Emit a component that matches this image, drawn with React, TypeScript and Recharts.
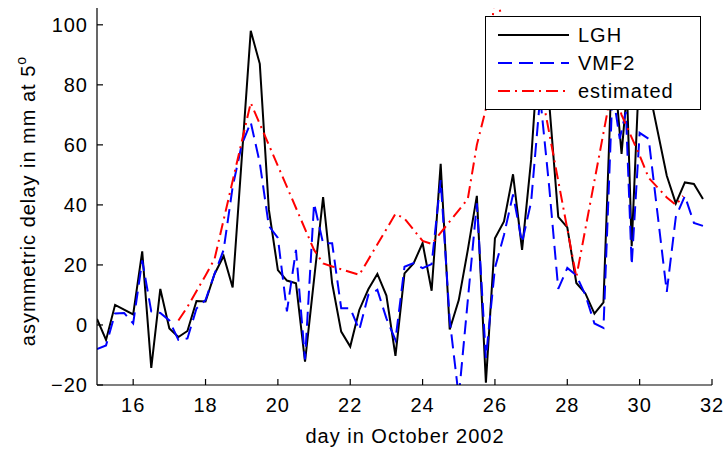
import { LineChart, Line, XAxis, YAxis } from "recharts";

const FONT = '"Liberation Sans", Arial, Helvetica, sans-serif';

const xTicks = [16, 18, 20, 22, 24, 26, 28, 30, 32];
const yTicks = [-20, 0, 20, 40, 60, 80, 100];

// LGH (black, solid)
const lghDays = [
  15.0, 15.25, 15.5, 16.0, 16.25, 16.5, 16.75, 17.0, 17.25, 17.5, 17.75, 18.0,
  18.25, 18.5, 18.75, 19.25, 19.5, 19.75, 20.0, 20.25, 20.5, 20.75, 21.25, 21.5,
  21.75, 22.0, 22.25, 22.5, 22.75, 23.0, 23.25, 23.5, 23.75, 24.0, 24.25, 24.5,
  24.75, 25.0, 25.25, 25.5, 25.75, 26.0, 26.25, 26.5, 26.75, 27.0, 27.25, 27.5,
  27.75, 28.0, 28.25, 28.5, 28.75, 29.0, 29.25, 29.5, 29.65, 29.78, 30.0, 30.25,
  30.75, 31.0, 31.25, 31.5, 31.75,
];
const lghDelay = [
  2, -5, 6.7, 3.5, 24.5, -14.3, 12, -1.2, -4, -2, 8, 7.8,
  17, 23, 12.5, 98, 87, 38.5, 18.3, 14.8, 13.9, -12.2, 42.6, 13.9,
  -2.2, -7.2, 5, 11.9, 17, 9.8, -10.3, 17.2, 20.5, 27.3, 11.4, 53.7,
  -1.5, 8.3, 25, 43, -19.2, 28.9, 34.5, 50.2, 25, 55, 100, 74,
  36, 32.5, 14, 10.5, 3.8, 7.5, 92, 57, 78, 26.2, 88, 79,
  49.7, 40.5, 47.5, 47, 42,
];

// VMF2 (blue, dashed)
const vmfDays = [
  15.0, 15.25, 15.5, 15.75, 16.0, 16.25, 16.5, 16.75, 17.0, 17.25, 17.5, 17.75,
  18.0, 18.25, 18.5, 18.75, 19.0, 19.25, 19.5, 19.75, 20.0, 20.25, 20.5, 20.75,
  21.0, 21.25, 21.5, 21.75, 22.0, 22.25, 22.5, 22.75, 23.0, 23.25, 23.5, 23.75,
  24.0, 24.25, 24.5, 24.75, 25.0, 25.5, 25.75, 26.0, 26.25, 26.5, 26.75, 27.0,
  27.25, 27.5, 27.75, 28.0, 28.25, 28.5, 28.75, 29.0, 29.25, 29.45, 29.62, 29.78,
  30.0, 30.25, 30.75, 31.0, 31.25, 31.5, 31.75,
];
const vmfDelay = [
  -8, -6.8, 3.8, 4, 0.5, 21.5, 4.5, 4, 1.5, -5, -4.5, 5.5,
  8.3, 17, 25, 46, 60, 67.5, 54, 33, 29, 4.5, 25, -11.5,
  40.5, 27.2, 27.2, 5.6, 5.6, -1.7, 10, 11.7, 2.2, -5, 19.4, 20.6,
  18.9, 20.3, 48.3, 1.7, -24, 40.5, -11, 19, 30, 43.5, 27.5, 41,
  76, 46, 12, 19, 16.5, 10, 0.5, -1, 78, 62, 71, 20,
  64, 62, 11, 36, 43, 34, 33,
];

// estimated (red, dash-dot)
const estDays = [
  17.25, 17.5, 18.0, 18.25, 19.25, 21.0, 21.25, 21.5, 22.25, 23.25, 23.5, 24.0,
  24.25, 25.25, 25.5, 25.75, 26.0, 26.5, 27.25, 28.25, 29.25, 29.5, 30.0, 30.25,
  30.75, 31.0, 31.2,
];
const estDelay = [
  1.5, 6, 16.5, 22, 74, 25, 20.5, 19.5, 16.7, 37, 35.5, 28,
  27, 42, 60, 72, 112, 86, 80, 16, 80, 70, 56.5, 49,
  42.5, 40, 43,
];

const toRows = (days: number[], values: number[]) =>
  days.map((day, i) => ({ day, delay: values[i] }));

const lghRows = toRows(lghDays, lghDelay);
const vmfRows = toRows(vmfDays, vmfDelay);
const estRows = toRows(estDays, estDelay);

const BLUE_DASH = "14 7";
const RED_DASH = "12 5 2 5";

function BottomTick({ x, y, payload }: any) {
  return (
    <g>
      <line x1={x} x2={x} y1={y} y2={y - 6} stroke="#000" strokeWidth={1.2} />
      <text x={x} y={y + 27} textAnchor="middle" fontSize={20} fontFamily={FONT} letterSpacing={1} fill="#000">
        {payload.value}
      </text>
    </g>
  );
}

function LeftTick({ x, y, payload }: any) {
  const v = payload.value < 0 ? `\u2212${Math.abs(payload.value)}` : `${payload.value}`;
  return (
    <g>
      <line x1={x} x2={x + 6} y1={y} y2={y} stroke="#000" strokeWidth={1.2} />
      <text x={x - 9} y={y + 7} textAnchor="end" fontSize={20} fontFamily={FONT} letterSpacing={1} fill="#000">
        {v}
      </text>
    </g>
  );
}

function TopTick({ x, y }: any) {
  return <line x1={x} x2={x} y1={y} y2={y + 6} stroke="#000" strokeWidth={1.2} />;
}

function RightTick({ x, y }: any) {
  return <line x1={x} x2={x - 6} y1={y} y2={y} stroke="#000" strokeWidth={1.2} />;
}

const legendItems = [
  { name: "LGH", color: "#000000", dash: undefined as string | undefined },
  { name: "VMF2", color: "#0000ff", dash: BLUE_DASH },
  { name: "estimated", color: "#ff0000", dash: RED_DASH },
];

export default function App() {
  return (
    <div style={{ position: "absolute", left: 0, top: 0, width: 725, height: 449, background: "#fff" }}>
      <LineChart width={725} height={449} margin={{ top: 8, right: 13, bottom: 34, left: 37 }}>
        <XAxis
          xAxisId="bottom"
          dataKey="day"
          type="number"
          domain={[15, 32]}
          ticks={xTicks}
          allowDataOverflow
          height={30}
          tickSize={0}
          tickMargin={0}
          tickLine={false}
          tick={<BottomTick />}
          axisLine={{ stroke: "#000", strokeWidth: 1.2 }}
          label={{
            content: () => (
              <text x={405} y={443} textAnchor="middle" fontSize={20} fontFamily={FONT} letterSpacing={1} fill="#000">
                day in October 2002
              </text>
            ),
          }}
        />
        <XAxis
          xAxisId="top"
          orientation="top"
          dataKey="day"
          type="number"
          domain={[15, 32]}
          ticks={xTicks}
          allowDataOverflow
          height={0}
          tickSize={0}
          tickMargin={0}
          tickLine={false}
          tick={<TopTick />}
          axisLine={{ stroke: "#000", strokeWidth: 1.2 }}
        />
        <YAxis
          yAxisId="left"
          type="number"
          domain={[-20, 105.6]}
          ticks={yTicks}
          allowDataOverflow
          width={60}
          tickSize={0}
          tickMargin={0}
          tickLine={false}
          tick={<LeftTick />}
          axisLine={{ stroke: "#000", strokeWidth: 1.2 }}
          label={{
            content: () => (
              <text
                transform="translate(35,201) rotate(-90)"
                textAnchor="middle"
                fontSize={20}
                fontFamily={FONT}
                letterSpacing={1}
                fill="#000"
              >
                asymmetric delay in mm at 5<tspan dy={-9} fontSize={14}>o</tspan>
              </text>
            ),
          }}
        />
        <YAxis
          yAxisId="right"
          orientation="right"
          type="number"
          domain={[-20, 105.6]}
          ticks={yTicks}
          allowDataOverflow
          width={0}
          tickSize={0}
          tickMargin={0}
          tickLine={false}
          tick={<RightTick />}
          axisLine={{ stroke: "#000", strokeWidth: 1.2 }}
        />
        <Line
          xAxisId="bottom"
          yAxisId="left"
          data={lghRows}
          dataKey="delay"
          name="LGH"
          stroke="#000000"
          strokeWidth={2}
          dot={false}
          isAnimationActive={false}
        />
        <Line
          xAxisId="bottom"
          yAxisId="left"
          data={vmfRows}
          dataKey="delay"
          name="VMF2"
          stroke="#0000ff"
          strokeWidth={2}
          strokeDasharray={BLUE_DASH}
          dot={false}
          isAnimationActive={false}
        />
        <Line
          xAxisId="bottom"
          yAxisId="left"
          data={estRows}
          dataKey="delay"
          name="estimated"
          stroke="#ff0000"
          strokeWidth={2}
          strokeDasharray={RED_DASH}
          dot={false}
          isAnimationActive={false}
        />
      </LineChart>

      {/* legend box, opaque like the original */}
      <div
        style={{
          position: "absolute",
          left: 485,
          top: 16,
          width: 214,
          height: 92,
          background: "#fff",
          border: "1.2px solid #000",
          fontFamily: FONT,
          fontSize: 20,
          letterSpacing: 1,
        }}
      >
        {legendItems.map((item, i) => (
          <div
            key={item.name}
            style={{ position: "absolute", left: 0, top: 4 + i * 28, height: 28, display: "flex", alignItems: "center" }}
          >
            <svg width={92} height={28} style={{ display: "block" }}>
              <line x1={12} x2={83} y1={14} y2={14} stroke={item.color} strokeWidth={2} strokeDasharray={item.dash} />
            </svg>
            <span style={{ lineHeight: "28px" }}>{item.name}</span>
          </div>
        ))}
      </div>
    </div>
  );
}
